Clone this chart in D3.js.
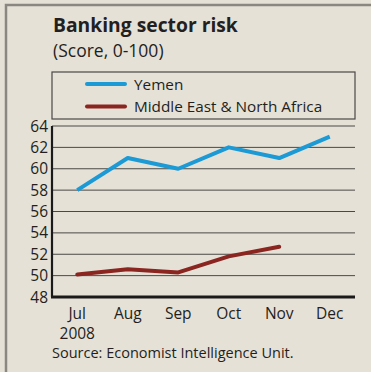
<!DOCTYPE html>
<html>
<head>
<meta charset="utf-8">
<script src="https://cdn.jsdelivr.net/npm/d3@7"></script>
<style>
  body { margin: 0; background: #e6e1d7; }
  svg { display: block; font-family: "Open Sans", "Noto Sans", sans-serif; }
</style>
</head>
<body>
<div id="chart"></div>
<script>
// Data
const months = ['Jul', 'Aug', 'Sep', 'Oct', 'Nov', 'Dec'];
const yemen = [58, 61, 60, 62, 61, 63];
const mena = [50.1, 50.6, 50.3, 51.8, 52.7];
const yTicks = [48, 50, 52, 54, 56, 58, 60, 62, 64];

const width = 371, height = 372;
const margin = { top: 126, right: 16, bottom: 75, left: 52 };

const svg = d3.select('#chart')
    .append('svg')
    .attr('width', width)
    .attr('height', height);

// background + frame (left and top edges only)
svg.append('rect')
    .attr('width', width).attr('height', height)
    .attr('fill', '#e6e1d7');
svg.append('path')
    .attr('d', `M6,${height} V5 H${width}`)
    .attr('fill', 'none')
    .attr('stroke', '#8a8680')
    .attr('stroke-width', 2.5);

// titles
svg.append('text')
    .attr('x', 53).attr('y', 32)
    .attr('font-size', 19.3).attr('font-weight', 700)
    .attr('fill', '#231f20')
    .text('Banking sector risk');
svg.append('text')
    .attr('x', 53).attr('y', 57)
    .attr('font-size', 17.5)
    .attr('fill', '#231f20')
    .text('(Score, 0-100)');

const x = d3.scalePoint()
    .domain(months)
    .range([margin.left, width - margin.right])
    .padding(0.5);

const y = d3.scaleLinear()
    .domain([48, 64])
    .range([height - margin.bottom, margin.top]);

// gridlines
svg.append('g')
    .selectAll('line')
    .data(yTicks.filter(d => d > 48))
    .join('line')
    .attr('x1', margin.left).attr('x2', width - margin.right)
    .attr('y1', d => y(d)).attr('y2', d => y(d))
    .attr('stroke', '#4a4846')
    .attr('stroke-width', 1);

// y tick labels
svg.append('g')
    .selectAll('text')
    .data(yTicks)
    .join('text')
    .attr('x', margin.left - 4)
    .attr('y', d => y(d) + 5.5)
    .attr('text-anchor', 'end')
    .attr('font-size', 15.5)
    .attr('fill', '#231f20')
    .text(d => d);

// axis lines
svg.append('line')
    .attr('x1', margin.left).attr('x2', margin.left)
    .attr('y1', y(64)).attr('y2', y(48))
    .attr('stroke', '#1a1a1a').attr('stroke-width', 2.2);
svg.append('line')
    .attr('x1', margin.left - 1).attr('x2', width - margin.right)
    .attr('y1', y(48)).attr('y2', y(48))
    .attr('stroke', '#1a1a1a').attr('stroke-width', 3);

// x tick labels
svg.append('g')
    .selectAll('text')
    .data(months)
    .join('text')
    .attr('x', d => x(d))
    .attr('y', 319)
    .attr('text-anchor', 'middle')
    .attr('font-size', 15.5)
    .attr('fill', '#231f20')
    .text(d => d);
svg.append('text')
    .attr('x', x('Jul')).attr('y', 339)
    .attr('text-anchor', 'middle')
    .attr('font-size', 15.5)
    .attr('fill', '#231f20')
    .text('2008');

// lines
const line = d3.line()
    .x((d, i) => x(months[i]))
    .y(d => y(d));

svg.append('path')
    .datum(mena)
    .attr('d', line)
    .attr('fill', 'none')
    .attr('stroke', '#8b2520')
    .attr('stroke-width', 4)
    .attr('stroke-linecap', 'round')
    .attr('stroke-linejoin', 'round');

svg.append('path')
    .datum(yemen)
    .attr('d', line)
    .attr('fill', 'none')
    .attr('stroke', '#1b9ad6')
    .attr('stroke-width', 4)
    .attr('stroke-linejoin', 'round');

// legend
const legend = svg.append('g');
legend.append('rect')
    .attr('x', margin.left).attr('y', 72)
    .attr('width', width - margin.right - margin.left)
    .attr('height', 47)
    .attr('fill', 'none')
    .attr('stroke', '#4a4846')
    .attr('stroke-width', 1.2);

const legendItems = [
    { name: 'Yemen', color: '#1b9ad6' },
    { name: 'Middle East & North Africa', color: '#8b2520' }
];
legendItems.forEach((item, i) => {
    const ly = 84 + i * 22.5;
    legend.append('line')
        .attr('x1', 87).attr('x2', 125)
        .attr('y1', ly).attr('y2', ly)
        .attr('stroke', item.color)
        .attr('stroke-width', 4)
        .attr('stroke-linecap', 'round');
    legend.append('text')
        .attr('x', 134).attr('y', ly + 5.5)
        .attr('font-size', 15.3)
        .attr('fill', '#231f20')
        .text(item.name);
});

// source
svg.append('text')
    .attr('x', 52).attr('y', 358)
    .attr('font-size', 14.5)
    .attr('fill', '#231f20')
    .text('Source: Economist Intelligence Unit.');
</script>
</body>
</html>
